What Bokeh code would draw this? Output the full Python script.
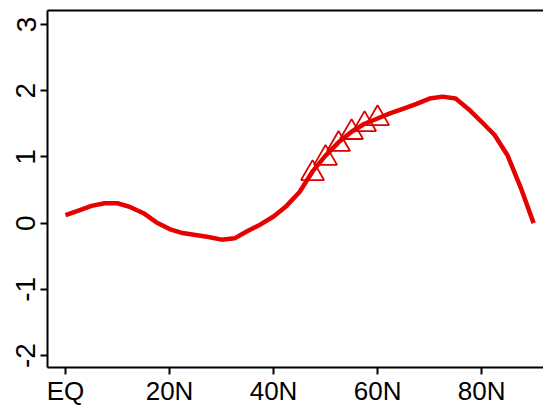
import math
from bokeh.plotting import figure
from bokeh.models import Range1d, LinearAxis, FixedTicker
from bokeh.embed import file_html
from bokeh.resources import INLINE

# Data
lat = [0, 2.5, 5, 7.5, 10, 12.5, 15, 17.5, 20, 22.5, 25, 27.5, 30, 32.5, 35, 37.5,
       40, 42.5, 45, 47.5, 50, 52.5, 55, 57.5, 60, 62.5, 65, 67.5, 70, 72.5, 75,
       77.5, 80, 82.5, 85, 87.5, 90]
val = [0.12, 0.19, 0.26, 0.30, 0.30, 0.24, 0.15, 0.01, -0.09, -0.15, -0.18, -0.21,
       -0.25, -0.23, -0.12, -0.02, 0.10, 0.26, 0.47, 0.78, 1.02, 1.22, 1.38, 1.50,
       1.58, 1.66, 1.73, 1.80, 1.88, 1.91, 1.88, 1.72, 1.53, 1.33, 1.02, 0.54, 0.0]
tri_lat = [47.5, 50, 52.5, 55, 57.5, 60]
tri_val = [0.75, 0.98, 1.19, 1.37, 1.49, 1.58]
x_ticks = [0, 20, 40, 60, 80]
x_labels = ["EQ", "20N", "40N", "60N", "80N"]
y_ticks = [-2, -1, 0, 1, 2, 3]
y_labels = ["-2", "-1", "0", "1", "2", "3"]

p = figure(width=543, height=408, output_backend="svg", toolbar_location=None,
           x_range=Range1d(-3.46, 91.9), y_range=Range1d(-2.18, 3.21),
           x_axis_type=None, y_axis_type=None,
           min_border_left=47, min_border_right=0, min_border_top=10, min_border_bottom=0)
p.outline_line_color = None
p.grid.visible = False
p.background_fill_color = "white"
p.border_fill_color = "white"

font = "Liberation Sans"

xa = LinearAxis(ticker=FixedTicker(ticks=x_ticks),
                major_label_overrides={t: l for t, l in zip(x_ticks, x_labels)})
xa.axis_line_width = 2
xa.axis_line_color = "black"
xa.major_tick_line_width = 2
xa.major_tick_out = 7
xa.major_tick_in = 0
xa.minor_tick_line_color = None
xa.major_label_text_font = font
xa.major_label_text_font_size = "26px"
xa.major_label_text_color = "black"
xa.major_label_standoff = 1
p.add_layout(xa, "below")

ya = LinearAxis(ticker=FixedTicker(ticks=y_ticks),
                major_label_overrides={t: l for t, l in zip(y_ticks, y_labels)})
ya.axis_line_width = 2
ya.axis_line_color = "black"
ya.major_tick_line_width = 2
ya.major_tick_out = 7
ya.major_tick_in = 0
ya.minor_tick_line_color = None
ya.major_label_text_font = font
ya.major_label_text_font_size = "28px"
ya.major_label_text_color = "black"
ya.major_label_orientation = "vertical"
ya.major_label_standoff = 5
p.add_layout(ya, "left")

ta = LinearAxis(ticker=FixedTicker(ticks=[]))
ta.axis_line_width = 2
ta.axis_line_color = "black"
ta.major_tick_line_color = None
ta.minor_tick_line_color = None
ta.major_label_text_font_size = "0px"
ta.major_tick_out = 0
ta.major_label_standoff = 0
p.add_layout(ta, "above")

p.line(lat, val, line_color="#E60000", line_width=4.5)
p.scatter(tri_lat, tri_val, marker="triangle", size=23, fill_color=None,
          line_color="#E00000", line_width=1.8)

open("out.html", "w").write(file_html(p, INLINE))
